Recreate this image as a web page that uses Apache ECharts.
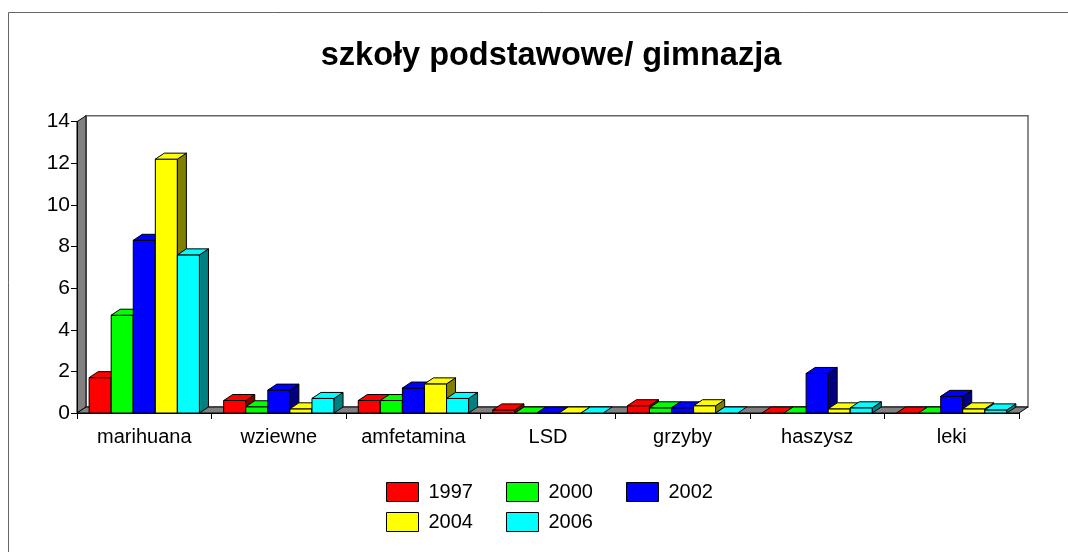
<!DOCTYPE html>
<html>
<head>
<meta charset="utf-8">
<script src="https://cdn.jsdelivr.net/npm/echarts@6/dist/echarts.min.js"></script>
<style>
  html, body { margin: 0; padding: 0; background: #fff; }
  #chart { width: 1068px; height: 552px; }
</style>
</head>
<body>
<div id="chart"></div>
<script>
// dane
const categories = ['marihuana', 'wziewne', 'amfetamina', 'LSD', 'grzyby', 'haszysz', 'leki'];
const years = ['1997', '2000', '2002', '2004', '2006'];
const v1997 = [1.7, 0.6, 0.6, 0.15, 0.35, 0, 0];
const v2000 = [4.7, 0.3, 0.6, 0, 0.25, 0, 0];
const v2002 = [8.3, 1.1, 1.2, 0, 0.25, 1.9, 0.8];
const v2004 = [12.2, 0.2, 1.4, 0, 0.35, 0.2, 0.2];
const v2006 = [7.6, 0.7, 0.7, 0, 0, 0.25, 0.15];
const yTicks = [0, 14, 2];

const values = [v1997, v2000, v2002, v2004, v2006];
const colors = ['#ff0000', '#00ff00', '#0000ff', '#ffff00', '#00ffff'];
const sides = ['#800000', '#008000', '#000080', '#808000', '#008080'];
const DX = 9, DY = 6;
const FONT = 'Liberation Sans, Arial, sans-serif';

function barRenderer(idx) {
    return function (params, api) {
        const cat = api.value(0), v = api.value(1);
        const base = api.coord([cat, 0]);
        const top = api.coord([cat, v]);
        const band = api.size([1, 0])[0];
        const w = band * 0.164;
        const x0 = base[0] - 2.5 * w + idx * w;
        const y0 = base[1], y1 = top[1];
        const st = { stroke: '#000', lineWidth: 1 };
        const children = [];
        if (y0 - y1 > 0.5) {
            children.push({ type: 'rect', shape: { x: x0, y: y1, width: w, height: y0 - y1 },
                style: Object.assign({ fill: colors[idx] }, st) });
            children.push({ type: 'polygon', shape: { points: [[x0 + w, y1], [x0 + w + DX, y1 - DY], [x0 + w + DX, y0 - DY], [x0 + w, y0]] },
                style: Object.assign({ fill: sides[idx] }, st) });
        }
        children.push({ type: 'polygon', shape: { points: [[x0, y1], [x0 + DX, y1 - DY], [x0 + w + DX, y1 - DY], [x0 + w, y1]] },
            style: Object.assign({ fill: colors[idx] }, st) });
        return { type: 'group', children: children };
    };
}

function wallsRenderer(params, api) {
    const c = params.coordSys;
    const x = c.x, y = c.y, w = c.width, h = c.height;
    return {
        type: 'group',
        children: [
            { type: 'rect', shape: { x: x + DX, y: y - DY, width: w, height: h },
              style: { fill: '#fff', stroke: '#666', lineWidth: 1.5 } },
            { type: 'polygon', shape: { points: [[x, y], [x + DX, y - DY], [x + DX, y + h - DY], [x, y + h]] },
              style: { fill: '#808080', stroke: '#000', lineWidth: 1 } },
            { type: 'polygon', shape: { points: [[x, y + h], [x + DX, y + h - DY], [x + w + DX, y + h - DY], [x + w, y + h]] },
              style: { fill: '#808080', stroke: '#000', lineWidth: 1 } }
        ]
    };
}

const series = [{
    type: 'custom',
    name: 'walls',
    renderItem: wallsRenderer,
    data: [[0, 0]],
    clip: false,
    silent: true,
    z: 1
}];
years.forEach(function (y, i) {
    series.push({
        type: 'custom',
        name: y,
        renderItem: barRenderer(i),
        data: values[i].map(function (v, k) { return [k, v]; }),
        encode: { x: 0, y: 1 },
        itemStyle: { color: colors[i], borderColor: '#000', borderWidth: 1 },
        clip: false,
        z: 2 + i
    });
});

const legendBase = {
    icon: 'rect',
    itemWidth: 32,
    itemHeight: 19,
    itemGap: 33,
    left: 386,
    padding: 0,
    orient: 'horizontal',
    itemStyle: { borderColor: '#000', borderWidth: 1 },
    textStyle: { fontFamily: FONT, fontSize: 20, color: '#000', padding: [0, 0, 0, 5] },
    selectedMode: false
};

const chart = echarts.init(document.getElementById('chart'));
chart.setOption({
    animation: false,
    backgroundColor: '#fff',
    title: {
        text: 'szkoły podstawowe/ gimnazja',
        left: 546,
        textAlign: 'center',
        top: 35,
        textStyle: { fontFamily: FONT, fontSize: 32.5, fontWeight: 'bold', color: '#000' }
    },
    graphic: [{
        type: 'rect',
        shape: { x: 8.5, y: 12.5, width: 1100, height: 600 },
        style: { fill: 'none', stroke: '#666', lineWidth: 1 },
        silent: true
    }],
    legend: [
        Object.assign({}, legendBase, { top: 482, data: years.slice(0, 3) }),
        Object.assign({}, legendBase, { top: 512, data: years.slice(3) })
    ],
    grid: { left: 77, right: 49, top: 121.7, bottom: 139 },
    xAxis: {
        type: 'category',
        data: categories,
        axisLine: { lineStyle: { color: '#000', width: 1 } },
        axisTick: { show: true, interval: 0, length: 6, lineStyle: { color: '#000' } },
        axisLabel: { interval: 0, fontFamily: FONT, fontSize: 20, color: '#000', margin: 14 },
        z: 10
    },
    yAxis: {
        type: 'value',
        min: yTicks[0],
        max: yTicks[1],
        interval: yTicks[2],
        splitLine: { show: false },
        axisLine: { show: true, lineStyle: { color: '#000', width: 1 } },
        axisTick: { show: true, length: 6, lineStyle: { color: '#000' } },
        axisLabel: { fontFamily: FONT, fontSize: 21, color: '#000', margin: 7 },
        z: 10
    },
    series: series
});
</script>
</body>
</html>
